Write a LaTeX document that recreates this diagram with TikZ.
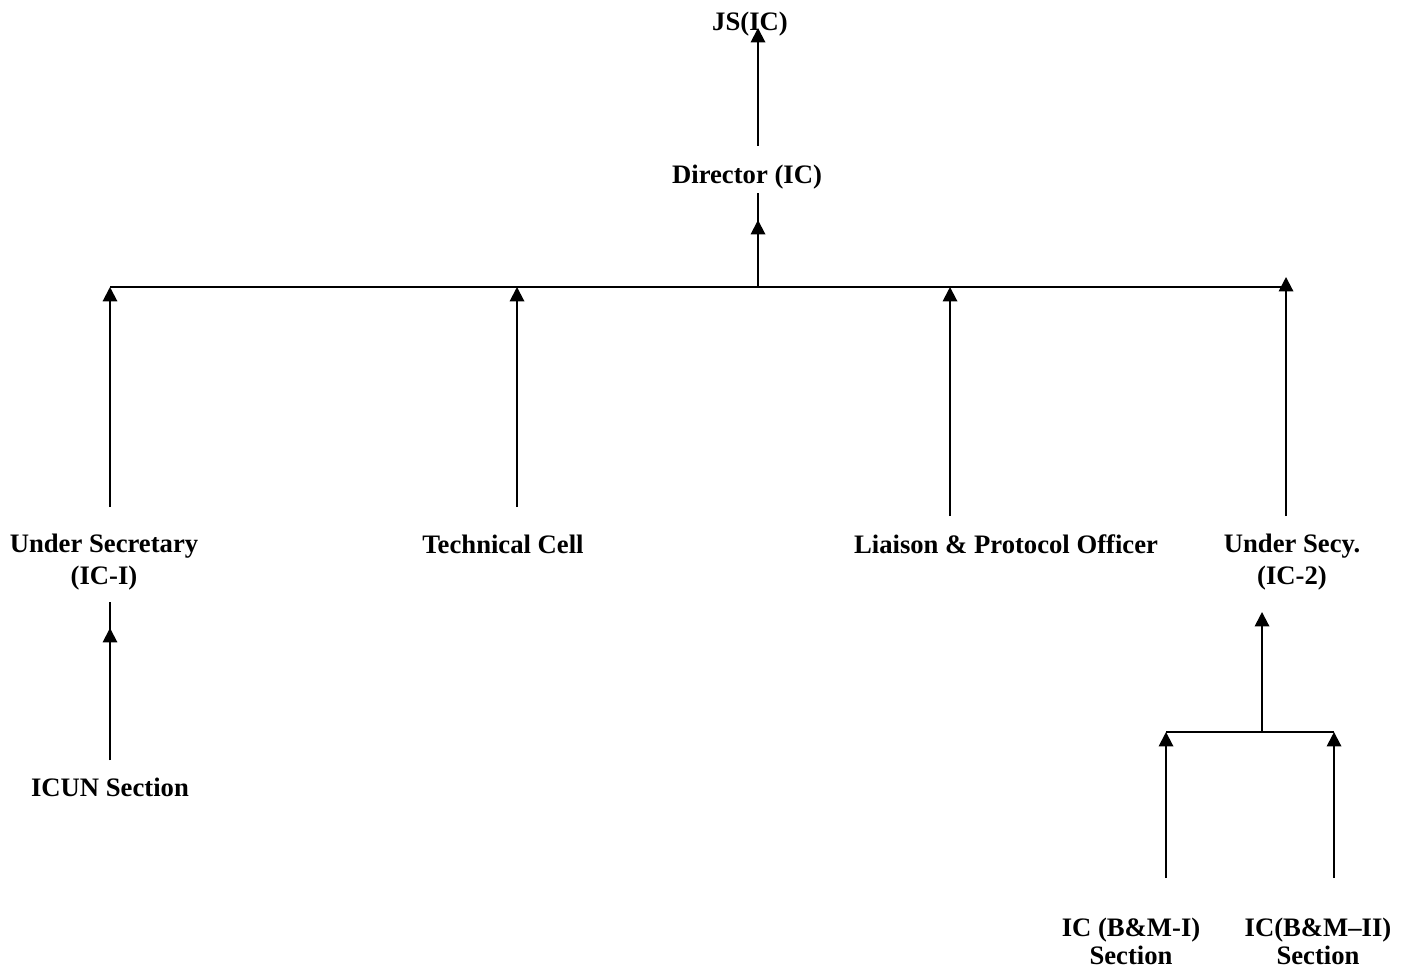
\documentclass[tikz,border=0pt]{standalone}
\usepackage{fontspec}
\setmainfont{Liberation Serif}
\usetikzlibrary{arrows.meta,positioning}

\begin{document}
\begin{tikzpicture}[x=0.45pt,y=-0.45pt,line width=0.9pt,
    every text node part/.style={align=center},
    lbl/.style={font=\fontsize{12}{14.2}\selectfont\bfseries,inner sep=1pt},
    sect/.style={lbl,font=\fontsize{12}{12.6}\selectfont\bfseries},
    up/.style={-{Triangle[length=6.5pt,width=6.5pt]}}]
    \useasboundingbox (0,0) rectangle (1411,972);

    \node[lbl] (js) at (750,24) {JS(IC)};
    \node[lbl] (dir) at (747,177) {Director (IC)};

    \node[lbl] (us1) at (104,562) {Under Secretary\\(IC-I)};
    \node[lbl] (tech) at (503,544) {Technical Cell};
    \node[lbl] (liaison) at (1006,544) {Liaison \& Protocol Officer};
    \node[lbl] (us2) at (1292,562) {Under Secy.\\(IC-2)};

    \node[lbl] (icun) at (110,787) {ICUN Section};
    \node[sect] (bm1) at (1131,941) {IC (B\&M-I)\\Section};
    \node[sect] (bm2) at (1318,941) {IC(B\&M--II)\\Section};

    % director to JS
    \coordinate (dirtop) at (758,146);
    \coordinate (jsbot) at (758,28);
    \draw[up] (dirtop) -- (jsbot);

    % main bus
    \coordinate (busL) at (110,287);
    \coordinate (busR) at (1287,287);
    \coordinate (busM) at (758,287);
    \draw (busL) -- (busR);
    \coordinate (dirbot) at (758,193);
    \coordinate (dirtip) at (758,220);
    \draw (busM) -- (dirbot);
    \draw[up] (busM) -- (dirtip);

    \coordinate (us1top) at (110,507);
    \coordinate (techtop) at (517,507);
    \coordinate (liaisontop) at (950,516);
    \coordinate (us2top) at (1286,516);
    \draw[up] (us1top) -- (busL);
    \draw[up] (techtop) -- (517,287);
    \draw[up] (liaisontop) -- (950,287);
    \draw[up] (us2top) -- (1286,277);

    % ICUN to under secretary
    \coordinate (icuntop) at (110,760);
    \coordinate (us1bot) at (110,602);
    \draw (icuntop) -- (us1bot);
    \draw[up] (icuntop) -- (110,628);

    % sections to under secy
    \coordinate (subL) at (1166,732);
    \coordinate (subR) at (1334,732);
    \coordinate (subM) at (1262,732);
    \draw (subL) -- (subR);
    \draw[up] (subM) -- (1262,612);
    \draw[up] (1166,878) -- (subL);
    \draw[up] (1334,878) -- (subR);
\end{tikzpicture}
\end{document}
